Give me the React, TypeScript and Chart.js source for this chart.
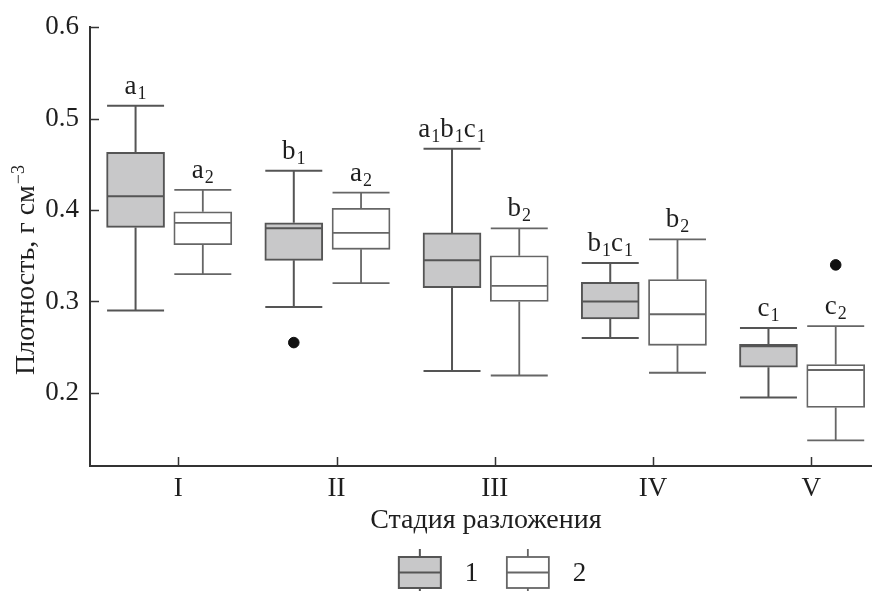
import React, { useEffect, useRef } from "react";
import { Chart, registerables } from "chart.js";

Chart.register(...registerables);

// ---- data ----
const STAGES = ["I", "II", "III", "IV", "V"];
const SERIES_NAMES = ["1", "2"];

const S1_MIN = [0.29, 0.294, 0.224, 0.26, 0.195];
const S1_Q1 = [0.381, 0.345, 0.315, 0.281, 0.228];
const S1_MED = [0.415, 0.38, 0.345, 0.3, 0.251];
const S1_Q3 = [0.463, 0.386, 0.375, 0.321, 0.253];
const S1_MAX = [0.514, 0.443, 0.467, 0.342, 0.271];

const S2_MIN = [0.33, 0.32, 0.219, 0.222, 0.148];
const S2_Q1 = [0.362, 0.357, 0.3, 0.252, 0.184];
const S2_MED = [0.386, 0.375, 0.317, 0.286, 0.225];
const S2_Q3 = [0.398, 0.402, 0.35, 0.324, 0.231];
const S2_MAX = [0.422, 0.419, 0.38, 0.368, 0.273];

const OUT1_STAGE = [2];
const OUT1_VALUE = [0.255];
const OUT2_STAGE = [5];
const OUT2_VALUE = [0.34];

// significance letters (letter groups, subscript = series number)
const LETTERS1 = [["a"], ["b"], ["a", "b", "c"], ["b", "c"], ["c"]];
const LETTERS2 = [["a"], ["a"], ["b"], ["b"], ["c"]];

const Y_TICKS = [0.2, 0.3, 0.4, 0.5, 0.6];
const Y_MIN = 0.12;
const Y_MAX = 0.6;

const X_TITLE = "Стадия разложения";
const Y_TITLE = "Плотность, г см";
const Y_TITLE_SUP = "−3";

// ---- styling ----
const OFF1 = -0.27;
const OFF2 = 0.155;
const BOX_W = 58;
const FONT = "'Liberation Serif', 'Times New Roman', serif";
const TEXT = "#1e1e1e";
const AXIS = "#333";
const GRAY = "#c8c8c9";
const TICK_SIZE = 27;
const TITLE_SIZE = 28;
const LETTER_SIZE = 27;
const SUB_SIZE = 18;

const SERIES = [
  { min: S1_MIN, q1: S1_Q1, med: S1_MED, q3: S1_Q3, max: S1_MAX, off: OFF1, letters: LETTERS1, sub: "1", fill: GRAY, line: "#555", lw: 2 },
  { min: S2_MIN, q1: S2_Q1, med: S2_MED, q3: S2_Q3, max: S2_MAX, off: OFF2, letters: LETTERS2, sub: "2", fill: "#ffffff", line: "#666", lw: 1.8 },
];

const boxPlugin = {
  id: "boxExtras",
  beforeDatasetsDraw(chart: any) {
    const { ctx } = chart;
    const xs = chart.scales.x;
    const ys = chart.scales.y;
    ctx.save();
    SERIES.forEach((s) => {
      ctx.strokeStyle = s.line;
      ctx.lineWidth = s.lw;
      STAGES.forEach((_, i) => {
        const x = xs.getPixelForValue(i + 1 + s.off);
        const yMax = ys.getPixelForValue(s.max[i]);
        const yMin = ys.getPixelForValue(s.min[i]);
        const yQ1 = ys.getPixelForValue(s.q1[i]);
        const yQ3 = ys.getPixelForValue(s.q3[i]);
        const hw = BOX_W / 2 - 0.5;
        ctx.beginPath();
        ctx.moveTo(x, yQ3);
        ctx.lineTo(x, yMax);
        ctx.moveTo(x - hw, yMax);
        ctx.lineTo(x + hw, yMax);
        ctx.moveTo(x, yQ1);
        ctx.lineTo(x, yMin);
        ctx.moveTo(x - hw, yMin);
        ctx.lineTo(x + hw, yMin);
        ctx.stroke();
      });
    });
    ctx.restore();
  },
  afterDatasetsDraw(chart: any) {
    const { ctx } = chart;
    const xs = chart.scales.x;
    const ys = chart.scales.y;
    ctx.save();
    // medians
    SERIES.forEach((s) => {
      ctx.strokeStyle = s.line;
      ctx.lineWidth = s.lw;
      STAGES.forEach((_, i) => {
        const x = xs.getPixelForValue(i + 1 + s.off);
        const y = ys.getPixelForValue(s.med[i]);
        ctx.beginPath();
        ctx.moveTo(x - BOX_W / 2 + 1, y);
        ctx.lineTo(x + BOX_W / 2 - 1, y);
        ctx.stroke();
      });
    });
    // letters
    ctx.fillStyle = TEXT;
    ctx.textBaseline = "alphabetic";
    ctx.textAlign = "left";
    SERIES.forEach((s) => {
      STAGES.forEach((_, i) => {
        const x = xs.getPixelForValue(i + 1 + s.off);
        const yTop = ys.getPixelForValue(s.max[i]) - 12;
        const parts = s.letters[i];
        ctx.font = `${LETTER_SIZE}px ${FONT}`;
        const lw = parts.map((p) => ctx.measureText(p).width);
        ctx.font = `${SUB_SIZE}px ${FONT}`;
        const sw = ctx.measureText(s.sub).width;
        const total = lw.reduce((a, b) => a + b, 0) + parts.length * (sw + 1);
        let cx = x - total / 2;
        parts.forEach((p, k) => {
          ctx.font = `${LETTER_SIZE}px ${FONT}`;
          ctx.fillText(p, cx, yTop);
          cx += lw[k] + 1;
          ctx.font = `${SUB_SIZE}px ${FONT}`;
          ctx.fillText(s.sub, cx, yTop + 5);
          cx += sw;
        });
      });
    });
    ctx.restore();
  },
  afterDraw(chart: any) {
    const { ctx, chartArea } = chart;
    const xs = chart.scales.x;
    const ys = chart.scales.y;
    ctx.save();
    // inward tick marks
    ctx.strokeStyle = AXIS;
    ctx.lineWidth = 1.5;
    ctx.beginPath();
    Y_TICKS.forEach((v) => {
      const y = Math.round(ys.getPixelForValue(v)) + 0.5;
      ctx.moveTo(chartArea.left, y);
      ctx.lineTo(chartArea.left + 9, y);
    });
    STAGES.forEach((_, i) => {
      const x = Math.round(xs.getPixelForValue(i + 1)) + 0.5;
      ctx.moveTo(x, chartArea.bottom);
      ctx.lineTo(x, chartArea.bottom - 9);
    });
    ctx.stroke();

    ctx.fillStyle = TEXT;
    // x title
    ctx.font = `${TITLE_SIZE}px ${FONT}`;
    ctx.textAlign = "center";
    ctx.textBaseline = "alphabetic";
    const midX = (chartArea.left + chartArea.right) / 2 + 5;
    ctx.fillText(X_TITLE, midX, chartArea.bottom + 62);

    // y title (rotated, with superscript)
    ctx.save();
    ctx.translate(34, 375);
    ctx.rotate(-Math.PI / 2);
    ctx.textAlign = "left";
    ctx.font = `${TITLE_SIZE}px ${FONT}`;
    ctx.fillText(Y_TITLE, 0, 0);
    const tw = ctx.measureText(Y_TITLE).width;
    ctx.font = `${SUB_SIZE}px ${FONT}`;
    ctx.fillText(Y_TITLE_SUP, tw + 1, -10);
    ctx.restore();

    // legend
    const ly = chartArea.bottom + 91;
    const lh = 31;
    const items = [
      { x: midX - 87, fill: SERIES[0].fill, line: SERIES[0].line, lw: SERIES[0].lw, label: SERIES_NAMES[0] },
      { x: midX + 21, fill: SERIES[1].fill, line: SERIES[1].line, lw: SERIES[1].lw, label: SERIES_NAMES[1] },
    ];
    items.forEach((it) => {
      const w = 42;
      ctx.fillStyle = it.fill;
      ctx.fillRect(it.x, ly, w, lh);
      ctx.strokeStyle = it.line;
      ctx.lineWidth = it.lw;
      ctx.strokeRect(it.x, ly, w, lh);
      ctx.beginPath();
      ctx.moveTo(it.x, ly + lh / 2);
      ctx.lineTo(it.x + w, ly + lh / 2);
      ctx.moveTo(it.x + w / 2, ly);
      ctx.lineTo(it.x + w / 2, ly - 8);
      ctx.moveTo(it.x + w / 2, ly + lh);
      ctx.lineTo(it.x + w / 2, ly + lh + 6);
      ctx.stroke();
      ctx.fillStyle = TEXT;
      ctx.font = `${TICK_SIZE}px ${FONT}`;
      ctx.textAlign = "left";
      ctx.textBaseline = "middle";
      ctx.fillText(it.label, it.x + w + 24, ly + lh / 2 + 1);
    });
    ctx.restore();
  },
};

export default function App() {
  const ref = useRef<HTMLCanvasElement | null>(null);

  useEffect(() => {
    document.body.style.margin = "0";
    const canvas = ref.current;
    if (!canvas) return;

    const barDs = (k: number) => ({
      type: "bar" as const,
      label: SERIES_NAMES[k],
      data: STAGES.map((_, i) => ({ x: i + 1 + SERIES[k].off, y: [SERIES[k].q1[i], SERIES[k].q3[i]] })),
      backgroundColor: SERIES[k].fill,
      borderColor: SERIES[k].line,
      borderWidth: SERIES[k].lw,
      borderSkipped: false,
      barThickness: BOX_W,
      grouped: false,
      order: 2,
    });

    const chart = new Chart(canvas, {
      type: "bar",
      data: {
        datasets: [
          barDs(0),
          barDs(1),
          {
            type: "scatter",
            label: "out1",
            data: OUT1_STAGE.map((st, i) => ({ x: st + OFF1, y: OUT1_VALUE[i] })),
            backgroundColor: "#111",
            borderColor: "#111",
            pointRadius: 5.3,
            order: 1,
          } as any,
          {
            type: "scatter",
            label: "out2",
            data: OUT2_STAGE.map((st, i) => ({ x: st + OFF2, y: OUT2_VALUE[i] })),
            backgroundColor: "#111",
            borderColor: "#111",
            pointRadius: 5.3,
            order: 1,
          } as any,
        ],
      },
      options: {
        responsive: false,
        animation: false,
        devicePixelRatio: 1,
        layout: { padding: { top: 22, right: 0, left: 0, bottom: 0 } },
        plugins: {
          legend: { display: false },
          tooltip: { enabled: false },
          title: { display: false },
        },
        scales: {
          x: {
            type: "linear",
            min: 1 - 89 / 159.5,
            max: 5 + 61 / 159.5,
            offset: false,
            grid: { display: false, drawTicks: false },
            border: { display: true, color: AXIS, width: 2 },
            afterBuildTicks: (scale: any) => {
              scale.ticks = STAGES.map((_, i) => ({ value: i + 1 }));
            },
            afterFit: (scale: any) => {
              scale.height = 125;
            },
            ticks: {
              padding: 7,
              color: TEXT,
              font: { family: FONT, size: TICK_SIZE },
              maxRotation: 0,
              autoSkip: false,
              callback: (v: any) => STAGES[Math.round(Number(v)) - 1] ?? "",
            },
          },
          y: {
            type: "linear",
            min: Y_MIN,
            max: Y_MAX,
            grid: { display: false, drawTicks: false },
            border: { display: true, color: AXIS, width: 2 },
            afterBuildTicks: (scale: any) => {
              scale.ticks = Y_TICKS.map((v) => ({ value: v }));
            },
            afterFit: (scale: any) => {
              scale.width = 90;
            },
            ticks: {
              padding: 11,
              color: TEXT,
              font: { family: FONT, size: TICK_SIZE },
              callback: (v: any) => Number(v).toFixed(1),
            },
          },
        },
      } as any,
      plugins: [boxPlugin],
    });

    return () => chart.destroy();
  }, []);

  return (
    <div style={{ width: 878, height: 591 }}>
      <canvas ref={ref} width={878} height={591} style={{ display: "block" }} />
    </div>
  );
}
